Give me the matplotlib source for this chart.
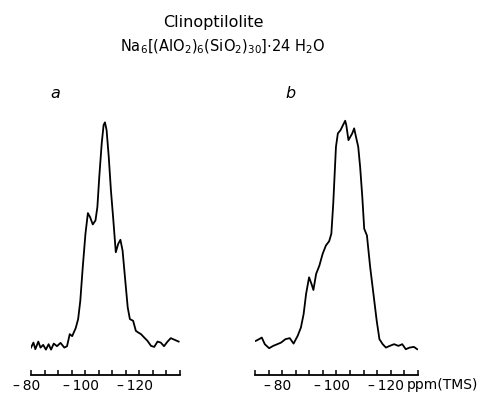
import matplotlib
matplotlib.use("Agg")
import matplotlib.pyplot as plt
import matplotlib.transforms as mtransforms
from matplotlib.ticker import MultipleLocator

# ---- data (intensity in arbitrary units) ----
ppm_a = [-80.0, -80.9, -81.6, -82.7, -83.5, -84.5, -85.5, -86.5, -87.4, -88.4,
         -89.6, -90.9, -92.3, -93.3, -94.3, -95.2, -96.5, -97.4, -98.2, -99.1,
         -100.1, -101.0, -101.8, -102.8, -103.8, -104.5, -105.2, -106.1, -106.8, -107.3,
         -107.9, -108.7, -109.5, -110.4, -111.3, -112.2, -113.0, -113.8, -114.8, -115.7,
         -116.5, -117.7, -118.7, -119.6, -120.6, -121.8, -123.0, -124.3, -125.5, -126.7,
         -127.9, -129.1, -130.4, -131.6, -132.8, -134.5]
int_a = [27.3, 32.3, 25.7, 33.3, 27.3, 30.0, 25.3, 30.7, 25.3, 31.3,
         28.7, 32.0, 27.3, 28.7, 40.7, 38.7, 46.7, 55.7, 74.0, 107.3,
         140.7, 161.3, 157.3, 150.0, 154.0, 167.3, 197.3, 230.7, 249.0, 251.7,
         244.0, 217.3, 184.0, 154.0, 122.3, 130.7, 134.7, 124.0, 94.0, 67.3,
         55.7, 54.0, 44.0, 42.3, 40.7, 37.3, 34.0, 29.0, 28.0, 33.3,
         32.3, 28.7, 33.3, 36.7, 35.3, 33.3]

ppm_b = [-70.3, -71.5, -72.5, -73.6, -75.2, -76.7, -78.2, -79.6, -81.2, -82.8,
         -84.2, -85.7, -86.9, -87.9, -88.8, -89.9, -90.8, -91.5, -92.5, -93.7,
         -94.9, -96.1, -97.3, -98.1, -98.8, -99.8, -100.5, -101.5, -102.4, -103.2,
         -103.6, -104.4, -105.1, -105.8, -106.5, -107.3, -108.0, -108.7, -109.5, -110.2,
         -111.2, -112.4, -113.6, -114.8, -115.8, -117.0, -118.2, -119.6, -121.2, -122.8,
         -124.2, -125.5, -126.9, -128.5, -129.7]
int_b = [34.0, 35.7, 37.3, 30.7, 26.7, 29.0, 30.7, 32.3, 35.7, 36.7,
         31.3, 39.0, 47.3, 60.7, 80.7, 97.3, 90.7, 84.7, 100.7, 109.0,
         120.7, 129.0, 133.3, 140.7, 170.7, 227.3, 240.7, 244.0, 249.0, 253.3,
         249.0, 234.0, 237.3, 240.7, 245.7, 235.7, 227.3, 207.3, 177.3, 145.7,
         139.0, 107.3, 80.7, 54.0, 35.7, 30.7, 27.3, 29.0, 30.7, 29.0,
         30.7, 25.7, 27.3, 28.0, 25.7]

xlim_a = (-80, -135)
xlim_b = (-70, -130)
major_a = [-80, -100, -120]
major_b = [-80, -100, -120]
title = "Clinoptilolite"
formula = r"Na$_6$[(AlO$_2$)$_6$(SiO$_2$)$_{30}$]$\cdot$24 H$_2$O"

W, H = 481, 395
fig = plt.figure(figsize=(W / 100, H / 100), dpi=100)
fig.patch.set_facecolor("white")

def px_axes(x0, x1, ytop, ybot):
    return fig.add_axes([x0 / W, (H - ybot) / H, (x1 - x0) / W, (ybot - ytop) / H])

def style(ax, xlim, majors):
    ax.set_xlim(*xlim)
    ax.set_ylim(0, 264)
    for s in ("top", "left", "right"):
        ax.spines[s].set_visible(False)
    ax.spines["bottom"].set_linewidth(1.3)
    ax.set_yticks([])
    ax.set_xticks(majors)
    ax.set_xticklabels(["\u2013\u2009" + str(abs(m)) for m in majors])
    ax.xaxis.set_minor_locator(MultipleLocator(5))
    ax.tick_params(axis="x", which="both", direction="in", length=3.5, width=1.1,
                   labelsize=10, pad=3)
    shift = mtransforms.ScaledTranslation(-4.5 / 100, 0, fig.dpi_scale_trans)
    for lab in ax.get_xticklabels():
        lab.set_transform(lab.get_transform() + shift)
    ax.patch.set_alpha(0)

ax_a = px_axes(31, 180, 110, 375)
ax_a.plot(ppm_a, int_a, color="black", lw=1.3)
style(ax_a, xlim_a, major_a)

ax_b = px_axes(255, 418, 110, 375)
ax_b.plot(ppm_b, int_b, color="black", lw=1.3)
style(ax_b, xlim_b, major_b)

fig.text(213 / W, 1 - 22 / H, title, ha="center", va="center", fontsize=11.5)
fig.text(223 / W, 1 - 47 / H, formula, ha="center", va="center", fontsize=10.5)
fig.text(55 / W, 1 - 94 / H, "a", ha="center", va="center", fontsize=11.5,
         style="italic")
fig.text(290 / W, 1 - 94 / H, "b", ha="center", va="center", fontsize=11.5,
         style="italic")
fig.text(407 / W, 1 - 385 / H, "ppm(TMS)", ha="left", va="center", fontsize=10)

fig.savefig("out.png", dpi=100)
